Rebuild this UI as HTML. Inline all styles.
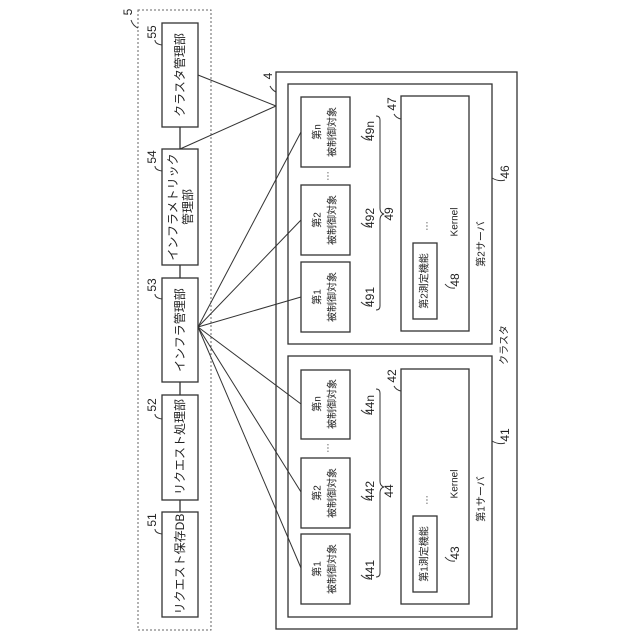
<!DOCTYPE html>
<html><head><meta charset="utf-8"><style>
html,body{margin:0;padding:0;background:#fff;}
svg{display:block;font-family:"Liberation Sans","Noto Sans CJK JP",sans-serif;}
text{fill:#222;}
</style></head><body>
<svg width="640" height="640" viewBox="0 0 640 640" xmlns="http://www.w3.org/2000/svg">
<g fill="none" stroke="#333" stroke-width="1.3">
<rect x="138" y="10" width="73" height="620" stroke-dasharray="2,2" stroke-width="1" stroke="#666"/>
<rect x="162" y="23" width="36" height="104"/>
<rect x="162" y="149" width="36" height="116"/>
<rect x="162" y="278" width="36" height="104"/>
<rect x="162" y="395" width="36" height="105"/>
<rect x="162" y="512" width="36" height="105"/>
<line x1="180" y1="127" x2="180" y2="149"/>
<line x1="180" y1="265" x2="180" y2="278"/>
<line x1="180" y1="382" x2="180" y2="395"/>
<line x1="180" y1="500" x2="180" y2="512"/>
<rect x="276" y="72" width="241" height="557"/>
<rect x="288" y="84" width="204" height="260"/>
<rect x="288" y="356" width="204" height="261"/>
<rect x="401" y="96" width="68" height="235"/>
<rect x="401" y="369" width="68" height="235"/>
<rect x="413" y="243" width="24" height="76"/>
<rect x="413" y="516" width="24" height="76"/>
<rect x="301" y="97" width="49" height="70"/>
<rect x="301" y="185" width="49" height="70"/>
<rect x="301" y="262" width="49" height="70"/>
<rect x="301" y="370" width="49" height="69"/>
<rect x="301" y="458" width="49" height="70"/>
<rect x="301" y="534" width="49" height="70"/>
</g>
<g fill="none" stroke="#333" stroke-width="1">
<line x1="198" y1="75" x2="276" y2="106"/>
<line x1="180" y1="149" x2="276" y2="106"/>
<line x1="198" y1="327" x2="301" y2="132"/>
<line x1="198" y1="327" x2="301" y2="220"/>
<line x1="198" y1="327" x2="301" y2="297"/>
<line x1="198" y1="327" x2="301" y2="404"/>
<line x1="198" y1="327" x2="301" y2="492"/>
<line x1="198" y1="327" x2="301" y2="568"/>
<path d="M376 116 q4 0 4 4 v88 q0 5 4 6 q-4 1 -4 6 v86 q0 4 -4 4"/>
<path d="M376 389 q4 0 4 4 v88 q0 5 4 6 q-4 1 -4 6 v80 q0 4 -4 4"/>
<path d="M155 40 q0 4 7 5"/><path d="M155 166 q0 4 7 5"/><path d="M155 294 q0 4 7 5"/>
<path d="M155 414 q0 4 7 5"/><path d="M155 529 q0 4 7 5"/><path d="M131 20 q2 6 7 8"/>
<path d="M270 86 q2 4 6 6"/><path d="M394 114 q2 4 7 5"/><path d="M394 386 q2 4 7 5"/>
<path d="M370 140 q-5 0 -9 -4"/><path d="M370 227 q-5 0 -9 -4"/><path d="M370 306 q-5 0 -9 -4"/>
<path d="M370 414 q-5 0 -9 -4"/><path d="M370 500 q-5 0 -9 -4"/><path d="M370 579 q-5 0 -9 -4"/>
<path d="M455 288 q-6 1 -10 -4"/><path d="M455 561 q-6 1 -10 -4"/>
<path d="M505 180 q-6 2 -13 -2"/><path d="M505 443 q-6 2 -13 -2"/>
</g>
<g font-size="12" text-anchor="middle" dominant-baseline="central">
<text transform="translate(180,75) rotate(-90)">クラスタ管理部</text>
<text transform="translate(173,207) rotate(-90)">インフラメトリック</text>
<text transform="translate(188,207) rotate(-90)">管理部</text>
<text transform="translate(180,330) rotate(-90)">インフラ管理部</text>
<text transform="translate(180,447) rotate(-90)">リクエスト処理部</text>
<text transform="translate(180,564) rotate(-90)">リクエスト保存DB</text>
</g>
<g font-size="10" text-anchor="middle" dominant-baseline="central">
<text transform="translate(318,132) rotate(-90)">第n</text><text transform="translate(333,132) rotate(-90)">被制御対象</text>
<text transform="translate(318,220) rotate(-90)">第2</text><text transform="translate(333,220) rotate(-90)">被制御対象</text>
<text transform="translate(318,297) rotate(-90)">第1</text><text transform="translate(333,297) rotate(-90)">被制御対象</text>
<text transform="translate(318,404) rotate(-90)">第n</text><text transform="translate(333,404) rotate(-90)">被制御対象</text>
<text transform="translate(318,493) rotate(-90)">第2</text><text transform="translate(333,493) rotate(-90)">被制御対象</text>
<text transform="translate(318,569) rotate(-90)">第1</text><text transform="translate(333,569) rotate(-90)">被制御対象</text>
<text transform="translate(425,281) rotate(-90)">第2測定機能</text>
<text transform="translate(425,554) rotate(-90)">第1測定機能</text>
<text transform="translate(455,222) rotate(-90)">Kernel</text>
<text transform="translate(455,484) rotate(-90)">Kernel</text>
<text transform="translate(482,244) rotate(-90)">第2サーバ</text>
<text transform="translate(482,499) rotate(-90)">第1サーバ</text>
<text transform="translate(505,345) rotate(-90)">クラスタ</text>
<text transform="translate(326,176) rotate(-90)">…</text>
<text transform="translate(326,448) rotate(-90)">…</text>
<text transform="translate(425,226) rotate(-90)">…</text>
<text transform="translate(425,500) rotate(-90)">…</text>
</g>
<g font-size="12" text-anchor="middle" dominant-baseline="central">
<text transform="translate(152,32) rotate(-90)">55</text>
<text transform="translate(152,157) rotate(-90)">54</text>
<text transform="translate(152,285) rotate(-90)">53</text>
<text transform="translate(152,405) rotate(-90)">52</text>
<text transform="translate(152,520) rotate(-90)">51</text>
<text transform="translate(128,12) rotate(-90)">5</text>
<text transform="translate(268,76) rotate(-90)">4</text>
<text transform="translate(392,104) rotate(-90)">47</text>
<text transform="translate(392,376) rotate(-90)">42</text>
<text transform="translate(370,131) rotate(-90)">49n</text>
<text transform="translate(370,218) rotate(-90)">492</text>
<text transform="translate(370,297) rotate(-90)">491</text>
<text transform="translate(389,214) rotate(-90)">49</text>
<text transform="translate(370,405) rotate(-90)">44n</text>
<text transform="translate(370,491) rotate(-90)">442</text>
<text transform="translate(370,570) rotate(-90)">441</text>
<text transform="translate(389,491) rotate(-90)">44</text>
<text transform="translate(455,280) rotate(-90)">48</text>
<text transform="translate(455,553) rotate(-90)">43</text>
<text transform="translate(505,172) rotate(-90)">46</text>
<text transform="translate(505,435) rotate(-90)">41</text>
</g>
</svg>
</body></html>
